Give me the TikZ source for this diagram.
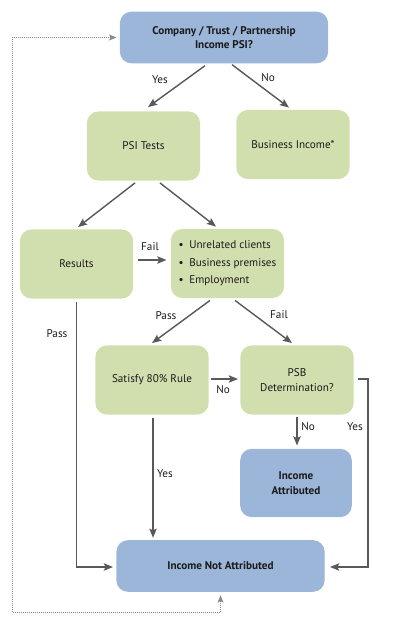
\documentclass[tikz,border=0pt]{standalone}
\usepackage{fontspec}
\setmainfont{PT Sans}
\usetikzlibrary{arrows.meta,positioning,calc}
\definecolor{psiblue}{HTML}{9CB6DA}
\definecolor{psigreen}{HTML}{D1DFAF}
\definecolor{ink}{HTML}{1A1A1A}
\definecolor{arrgray}{HTML}{595959}
\definecolor{dotgray}{HTML}{8A8A8A}
\tikzset{
  bluebox/.style={fill=psiblue,rounded corners=7pt,
                  minimum width=125pt,minimum height=31pt,
                  align=center,font=\fontsize{6.7}{8.6}\selectfont\bfseries,
                  text=ink,inner sep=2pt},
  greenbox/.style={fill=psigreen,rounded corners=7pt,
                   minimum width=68pt,minimum height=41.5pt,
                   align=center,font=\fontsize{6.7}{8.6}\selectfont,
                   text=ink,inner sep=2pt},
  flowarr/.style={-{Stealth[length=5.5pt,width=4.4pt,inset=1pt]},line width=0.85pt,color=arrgray},
  looparr/.style={{Stealth[length=4.5pt,width=3.6pt,inset=1pt]}-{Stealth[length=4.5pt,width=3.6pt,inset=1pt]},
                  dash pattern=on 0.5pt off 0.7pt,line width=0.6pt,color=dotgray},
  lbl/.style={font=\fontsize{6.7}{8}\selectfont,text=ink,inner sep=1pt}
}

\begin{document}
\begin{tikzpicture}[x=0.6pt,y=-0.6pt]
  \useasboundingbox (0,0) rectangle (400,626);
  % boxes
  \node[bluebox] (psi) at (224,37.5) {Company / Trust / Partnership\\Income PSI?};
  \node[greenbox] (tests) at (143.5,146) {PSI Tests};
  \node[greenbox] (busi) at (293,144.5) {Business Income*};
  \node[greenbox] (results) at (76.5,264) {Results};
  \node[greenbox,align=left,font=\fontsize{6.7}{10.5}\selectfont] (crit) at (227.5,263.5)
    {\textbullet\enspace Unrelated clients\\\textbullet\enspace Business premises\\\textbullet\enspace Employment};
  \node[greenbox] (eighty) at (152,380) {Satisfy 80\% Rule};
  \node[greenbox] (psb) at (297,380) {PSB\\Determination?};
  \node[bluebox,minimum width=67pt,minimum height=41pt] (attr) at (296,483) {Income\\Attributed};
  \node[bluebox] (notattr) at (220.5,566) {Income Not Attributed};
  \coordinate (loopcorner) at (12,612);

  % arrows
  \draw[flowarr] ($(psi.south)+(-19,2)$) -- ($(tests.north)+(4.5,-4)$);
  \draw[flowarr] ($(psi.south)+(8,1)$) -- ($(busi.north)+(-4,-2)$);
  \draw[flowarr] ($(tests.south)+(-8.5,2)$) -- ($(results.north)+(1.5,-2)$);
  \draw[flowarr] ($(tests.south)+(16.5,2)$) -- ($(crit.north)+(-11.5,-2)$);
  \draw[flowarr] ($(results.east)+(4,-4)$) -- ($(crit.west)+(-4,-3.5)$);
  \draw[flowarr] ($(crit.south)+(-17.5,2)$) -- ($(eighty.north)+(0,-2)$);
  \draw[flowarr] ($(crit.south)+(7.5,2)$) -- ($(psb.north)+(-5,-2)$);
  \draw[flowarr] ($(eighty.east)+(2,-1)$) -- ($(psb.west)+(-2,-1)$);
  \draw[flowarr] ($(psb.south)+(0,2)$) -- ($(attr.north)+(1,-3)$);
  \draw[flowarr] ($(psb.east)+(4,-1)$) -- ++(10,0) |- ($(notattr.east)+(5,1)$);
  \draw[flowarr] ($(eighty.south)+(1,3)$) -- ($(eighty.south |- notattr.north)+(1,-2)$);
  \draw[flowarr] ($(results.south)+(0,3)$) |- ($(notattr.west)+(-3,1)$);
  \draw[looparr] ($(notattr.south)+(0,3)$) |- (loopcorner) |- ($(psi.west)+(-3,0)$);

  % labels
  \node[lbl] (l1) at (160,80) {Yes};
  \node[lbl] (l2) at (268,78) {No};
  \node[lbl] (l3) at (150,247) {Fail};
  \node[lbl] (l4) at (166,316) {Pass};
  \node[lbl] (l5) at (279,315) {Fail};
  \node[lbl] (l6) at (223,390) {No};
  \node[lbl] (l7) at (308,427) {No};
  \node[lbl] (l8) at (355,427) {Yes};
  \node[lbl] (l9) at (165,474) {Yes};
  \node[lbl] (l10) at (57,334) {Pass};
\end{tikzpicture}
\end{document}
